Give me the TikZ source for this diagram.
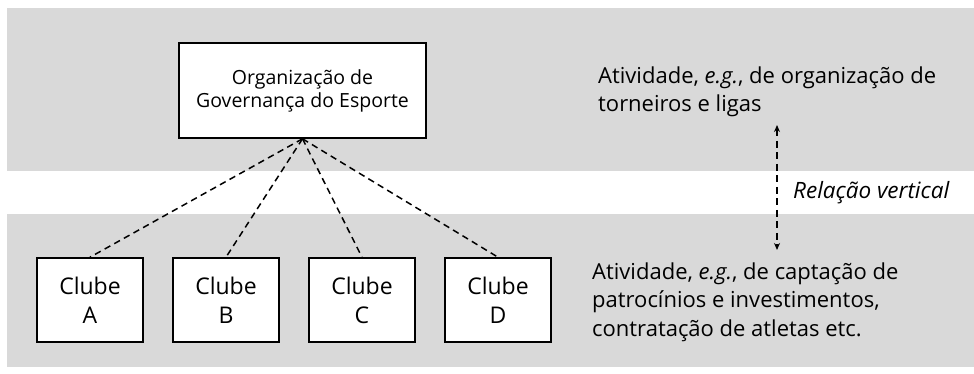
\documentclass[tikz,border=0pt]{standalone}
\usepackage{fontspec}
\setmainfont{Open Sans}
\usetikzlibrary{arrows.meta}
\definecolor{bandgray}{HTML}{D9D9D9}
\begin{document}
\begin{tikzpicture}[x=1pt,y=-1pt,
  band/.style={fill=bandgray,draw=none},
  orgbox/.style={draw=black,line width=1.6pt,fill=white,minimum width=247pt,minimum height=95pt,align=center,inner sep=0pt,font=\fontsize{19.5}{23}\selectfont},
  clubbox/.style={draw=black,line width=1.6pt,fill=white,minimum width=106pt,minimum height=84pt,align=center,inner sep=0pt,font=\fontsize{23}{29}\selectfont},
  link/.style={line width=1.5pt,dash pattern=on 6.5pt off 4.5pt},
  vrel/.style={line width=1.4pt,dash pattern=on 7pt off 4.5pt,{Stealth[length=7pt,width=6pt]}-{Stealth[length=7pt,width=6pt]}},
  desc/.style={anchor=west,align=left,inner sep=0pt,font=\fontsize{22}{28.5}\selectfont}]
\useasboundingbox (0,0) rectangle (974,373);
\fill[band] (7,8) rectangle (974,171);
\fill[band] (7,214) rectangle (974,367);
\node[orgbox] (org) at (302.5,90.5) {Organização de\\Governança do Esporte};
\node[clubbox] (ca) at (90,300) {Clube\\A};
\node[clubbox] (cb) at (226,300) {Clube\\B};
\node[clubbox] (cc) at (362,300) {Clube\\C};
\node[clubbox] (cd) at (498,300) {Clube\\D};
\foreach \c in {ca,cb,cc,cd} \draw[link] (org.south) -- (\c.north);
\node[desc] (top) at (598,92) {Atividade, \textit{e.g.}, de organização de\\torneiros e ligas};
\node[desc] (bot) at (592,302) {Atividade, \textit{e.g.}, de captação de\\patrocínios e investimentos,\\contratação de atletas etc.};
\node[desc,font=\fontsize{22.5}{26}\selectfont] (rel) at (793,193) {\textit{Relação vertical}};
\coordinate (vt) at (777,125);
\coordinate (vb) at (777,250);
\draw[vrel] (vt) -- (vb);
\end{tikzpicture}
\end{document}
